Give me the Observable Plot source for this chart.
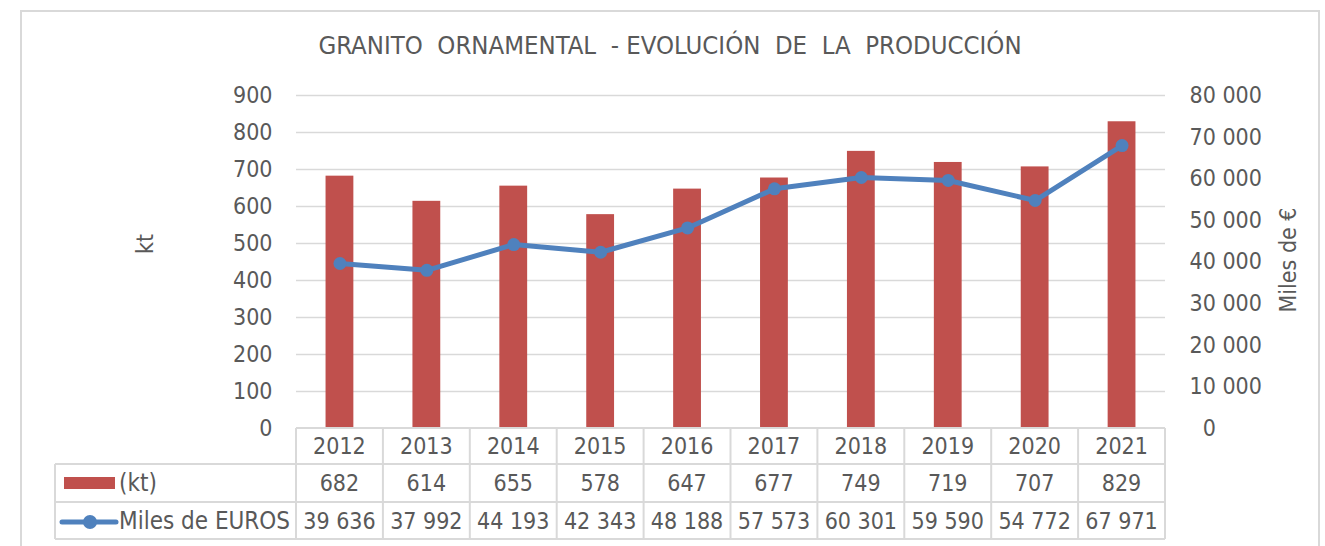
<!DOCTYPE html>
<html>
<head>
<meta charset="utf-8">
<script src="https://cdn.jsdelivr.net/npm/d3@7"></script>
<script src="https://cdn.jsdelivr.net/npm/@observablehq/plot@0.6"></script>
<style>
  body { margin: 0; background: #fff; }
  #wrap { position: relative; width: 1325px; height: 546px; overflow: hidden;
          font-family: "DejaVu Sans Condensed", "DejaVu Sans", sans-serif; color: #595959; }
  #frame { position: absolute; left: 20px; top: 10px; width: 1300px; height: 600px;
           border: 2px solid #D9D9D9; box-sizing: border-box; }
  #title { position: absolute; left: 20px; width: 1300px; top: 30px; text-align: center;
           font-size: 25.5px; white-space: pre; line-height: 30px; }
  .layer { position: absolute; left: 0; top: 0; }
</style>
</head>
<body>
<div id="wrap">
  <div id="frame"></div>
  <div id="title"></div>
</div>
<script>
// ---- data ----
const title = "GRANITO  ORNAMENTAL  - EVOLUCIÓN  DE  LA  PRODUCCIÓN";
const years = ["2012", "2013", "2014", "2015", "2016", "2017", "2018", "2019", "2020", "2021"];
const kt = [682, 614, 655, 578, 647, 677, 749, 719, 707, 829];
const euros = [39636, 37992, 44193, 42343, 48188, 57573, 60301, 59590, 54772, 67971];
const ktTicks = [0, 100, 200, 300, 400, 500, 600, 700, 800, 900];
const eurTicks = [0, 10000, 20000, 30000, 40000, 50000, 60000, 70000, 80000];
const ktLabel = "kt";
const eurLabel = "Miles de €";
const seriesNames = ["(kt)", "Miles de EUROS"];

const barColor = "#C0504D";
const lineColor = "#4F81BD";
const gridColor = "#D9D9D9";
const textColor = "#595959";
const font = "'DejaVu Sans Condensed', 'DejaVu Sans', sans-serif";
const fs = 23;

const rows = years.map((year, i) => ({year, kt: kt[i], eur: euros[i]}));
const fmt = v => d3.format(",")(v).replace(/,/g, " ");

document.getElementById("title").textContent = title;

const W = 1325, H = 546, L = 296, R = 1165, T = 95, B = 428;
const common = {
  width: W, height: H,
  marginLeft: L, marginRight: W - R, marginTop: T, marginBottom: H - B,
  style: {fontFamily: font, fontSize: fs + "px", color: textColor, background: "transparent", overflow: "visible"}
};
const xOpts = {domain: years, paddingInner: 0.68, paddingOuter: 0.34, round: false, axis: null};

const p1 = Plot.plot({
  ...common,
  x: xOpts,
  y: {domain: [0, 900], axis: null},
  marks: [
    Plot.gridY(ktTicks.filter(d => d > 0), {stroke: gridColor, strokeOpacity: 1, strokeWidth: 1.5}),
    Plot.barY(rows, {x: "year", y: "kt", fill: barColor}),
    Plot.axisY(ktTicks, {tickSize: 0, tickPadding: 24, label: null, fill: textColor}),
    Plot.text([ktLabel], {frameAnchor: "left", textAnchor: "middle", dx: -151, dy: -18, rotate: -90, fill: textColor, fontSize: fs})
  ]
});

const p2 = Plot.plot({
  ...common,
  x: xOpts,
  y: {domain: [0, 80000], axis: null},
  marks: [
    Plot.line(rows, {x: "year", y: "eur", stroke: lineColor, strokeWidth: 5}),
    Plot.dot(rows, {x: "year", y: "eur", r: 6.5, fill: lineColor, stroke: "none"}),
    Plot.axisY(eurTicks, {anchor: "right", tickSize: 0, tickPadding: 24, label: null, fill: textColor,
      tickFormat: d => d === 0 ? "\u00a0\u00a00" : fmt(d)}),
    Plot.text([eurLabel], {frameAnchor: "right", textAnchor: "middle", dx: 123, dy: -2, rotate: -90, fill: textColor, fontSize: fs})
  ]
});

p1.classList.add("layer");
p2.classList.add("layer");
const wrap = document.getElementById("wrap");
wrap.appendChild(p1);

// ---- data table below the axis, aligned with Plot's x band scale ----
const sx = p1.scale("x");
const step = sx.step;
const colLeft = y => sx.apply(y) - (step - sx.bandwidth) / 2;
const colCenter = y => sx.apply(y) + sx.bandwidth / 2;
const legendLeft = 55;
const rowY = [B, 464, 502, 539];

const tbl = d3.create("svg").attr("class", "layer").attr("width", W).attr("height", H)
  .style("font-family", font).style("font-size", fs + "px");
const g = tbl.append("g").attr("stroke", gridColor).attr("stroke-width", 2);
// horizontal lines
g.append("line").attr("x1", L).attr("x2", R).attr("y1", rowY[0]).attr("y2", rowY[0]);
for (const y of rowY.slice(1)) g.append("line").attr("x1", legendLeft).attr("x2", R).attr("y1", y).attr("y2", y);
// vertical lines
g.append("line").attr("x1", legendLeft).attr("x2", legendLeft).attr("y1", rowY[1]).attr("y2", rowY[3]);
for (const yr of years) {
  const x = colLeft(yr);
  g.append("line").attr("x1", x).attr("x2", x).attr("y1", rowY[0]).attr("y2", rowY[3]);
}
g.append("line").attr("x1", R).attr("x2", R).attr("y1", rowY[0]).attr("y2", rowY[3]);

const t = tbl.append("g").attr("fill", textColor).attr("text-anchor", "middle").attr("dominant-baseline", "central");
const cy = [446, 483, 521];
rows.forEach(r => {
  const x = colCenter(r.year);
  t.append("text").attr("x", x).attr("y", cy[0]).text(r.year);
  t.append("text").attr("x", x).attr("y", cy[1]).text(r.kt);
  t.append("text").attr("x", x).attr("y", cy[2]).text(fmt(r.eur));
});
// legend keys
tbl.append("rect").attr("x", 64).attr("y", 477).attr("width", 51).attr("height", 12).attr("fill", barColor);
tbl.append("line").attr("x1", 62).attr("x2", 116).attr("y1", 522).attr("y2", 522)
  .attr("stroke", lineColor).attr("stroke-width", 5).attr("stroke-linecap", "round");
tbl.append("circle").attr("cx", 90).attr("cy", 522).attr("r", 7).attr("fill", lineColor);
const lt = tbl.append("g").attr("fill", textColor).attr("dominant-baseline", "central").style("font-size", "24px");
lt.append("text").attr("x", 119).attr("y", cy[1]).text(seriesNames[0]);
lt.append("text").attr("x", 119).attr("y", cy[2]).text(seriesNames[1]);

wrap.appendChild(tbl.node());
wrap.appendChild(p2);
</script>
</body>
</html>
